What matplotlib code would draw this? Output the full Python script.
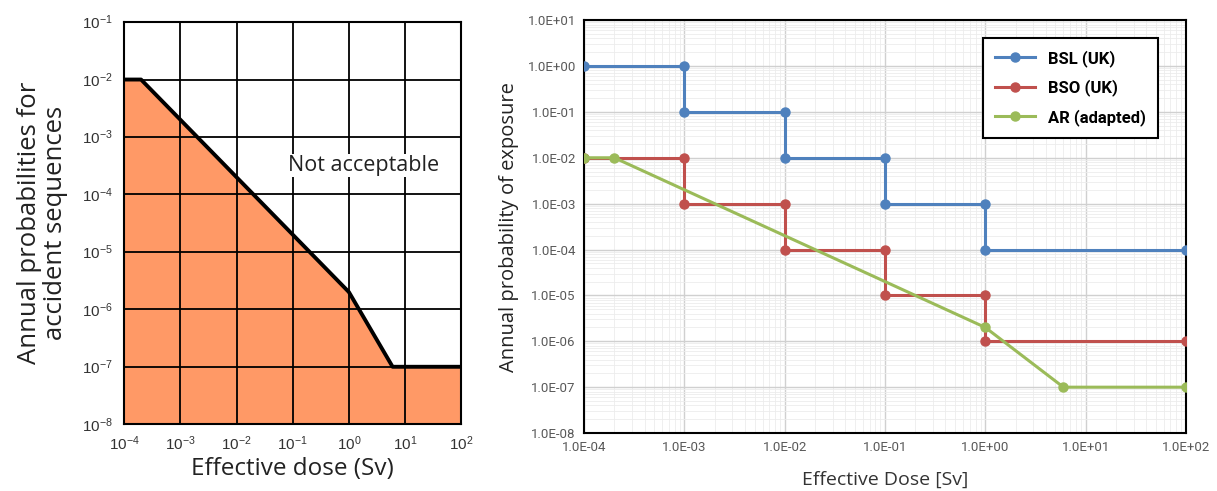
import matplotlib.pyplot as plt
from matplotlib.ticker import LogLocator, NullFormatter

plt.rcParams['font.family'] = ['Open Sans', 'DejaVu Sans']
plt.rcParams['mathtext.fontset'] = 'custom'
plt.rcParams['mathtext.rm'] = 'Liberation Sans'
plt.rcParams['mathtext.it'] = 'Liberation Sans'

NARROW = ['Liberation Sans Narrow', 'Roboto', 'DejaVu Sans']

# acceptance limit curve (left) and AR adapted (right)
ar_dose = [1e-4, 2e-4, 1.0, 6.0, 100.0]
ar_prob = [1e-2, 1e-2, 2e-6, 1e-7, 1e-7]

bsl_dose = [1e-4, 1e-3, 1e-3, 1e-2, 1e-2, 1e-1, 1e-1, 1.0, 1.0, 100.0]
bsl_prob = [1.0, 1.0, 1e-1, 1e-1, 1e-2, 1e-2, 1e-3, 1e-3, 1e-4, 1e-4]

bso_dose = [1e-4, 1e-3, 1e-3, 1e-2, 1e-2, 1e-1, 1e-1, 1.0, 1.0, 100.0]
bso_prob = [1e-2, 1e-2, 1e-3, 1e-3, 1e-4, 1e-4, 1e-5, 1e-5, 1e-6, 1e-6]

x_exp = [-4, -3, -2, -1, 0, 1, 2]
y_exp_left = [-8, -7, -6, -5, -4, -3, -2, -1]
y_exp_right = [-8, -7, -6, -5, -4, -3, -2, -1, 0, 1]

fig = plt.figure(figsize=(12.17, 4.91), dpi=100)

# ---- left panel
ax1 = fig.add_axes([0.102, 0.136, 0.277, 0.819])
ax1.set_xscale('log')
ax1.set_yscale('log')
ax1.set_xlim(1e-4, 1e2)
ax1.set_ylim(1e-8, 1e-1)
ax1.fill_between(ar_dose, ar_prob, 1e-8, color='#FF9966', zorder=1)
ax1.plot(ar_dose, ar_prob, color='black', lw=2.8, zorder=3)
ax1.set_xticks([10.0**e for e in x_exp])
ax1.set_xticklabels([f'$10^{{{e}}}$' for e in x_exp], fontsize=11, color='#333333')
ax1.set_yticks([10.0**e for e in y_exp_left])
ax1.set_yticklabels([f'$10^{{{e}}}$' for e in y_exp_left], fontsize=11, color='#333333')
ax1.minorticks_off()
ax1.tick_params(which='both', length=0, pad=8)
ax1.grid(True, which='major', color='black', lw=1.3, zorder=2)
ax1.set_axisbelow(False)
for s in ax1.spines.values():
    s.set_linewidth(1.5)
ax1.text(1.8, 3.2e-4, 'Not acceptable', fontsize=15.5, ha='center', va='center',
         color='#222222', zorder=4,
         bbox=dict(facecolor='white', edgecolor='none', pad=1))
ax1.set_xlabel('Effective dose (Sv)', fontsize=17.5, color='#222222', labelpad=2)
ax1.set_ylabel('Annual probabilities for\naccident sequences', fontsize=18.5,
               color='#222222', linespacing=1.05, labelpad=10)

# ---- right panel
ax2 = fig.add_axes([0.480, 0.118, 0.4945, 0.841])
ax2.set_xscale('log')
ax2.set_yscale('log')
ax2.set_xlim(1e-4, 1e2)
ax2.set_ylim(1e-8, 1e1)
ax2.plot(bsl_dose, bsl_prob, '-o', color='#4F81BD', lw=2.2, ms=6.5, label='BSL (UK)', zorder=4)
ax2.plot(bso_dose, bso_prob, '-o', color='#C0504D', lw=2.2, ms=6.5, label='BSO (UK)', zorder=4)
ax2.plot(ar_dose, ar_prob, '-o', color='#9BBB59', lw=2.2, ms=6.5, label='AR (adapted)', zorder=5)
ax2.set_xticks([10.0**e for e in x_exp])
ax2.set_xticklabels([f'1.0E{e:+03d}' for e in x_exp], fontsize=9.5, color='#595959',
                    family=NARROW)
ax2.set_yticks([10.0**e for e in y_exp_right])
ax2.set_yticklabels([f'1.0E{e:+03d}' for e in y_exp_right], fontsize=9.5, color='#595959',
                    family=NARROW)
ax2.xaxis.set_minor_locator(LogLocator(subs='auto', numticks=20))
ax2.yaxis.set_minor_locator(LogLocator(subs='auto', numticks=20))
ax2.xaxis.set_minor_formatter(NullFormatter())
ax2.yaxis.set_minor_formatter(NullFormatter())
ax2.tick_params(which='both', length=0, pad=6)
ax2.grid(True, which='major', color='#d0d0d0', lw=1.0, zorder=0)
ax2.grid(True, which='minor', color='#ececec', lw=0.6, zorder=0)
for s in ax2.spines.values():
    s.set_linewidth(1.5)
ax2.set_xlabel('Effective Dose [Sv]', fontsize=14, color='#333333', labelpad=12)
ax2.set_ylabel('Annual probability of exposure', fontsize=14.5, color='#222222', labelpad=6)
leg = ax2.legend(loc='upper right', bbox_to_anchor=(0.967, 0.976),
                 prop={'weight': 'bold', 'size': 12, 'family': NARROW},
                 fancybox=False, framealpha=1, edgecolor='black',
                 handlelength=2.4, labelspacing=0.75, borderpad=0.7)
leg.get_frame().set_linewidth(1.5)

fig.savefig('out.png', dpi=100)
